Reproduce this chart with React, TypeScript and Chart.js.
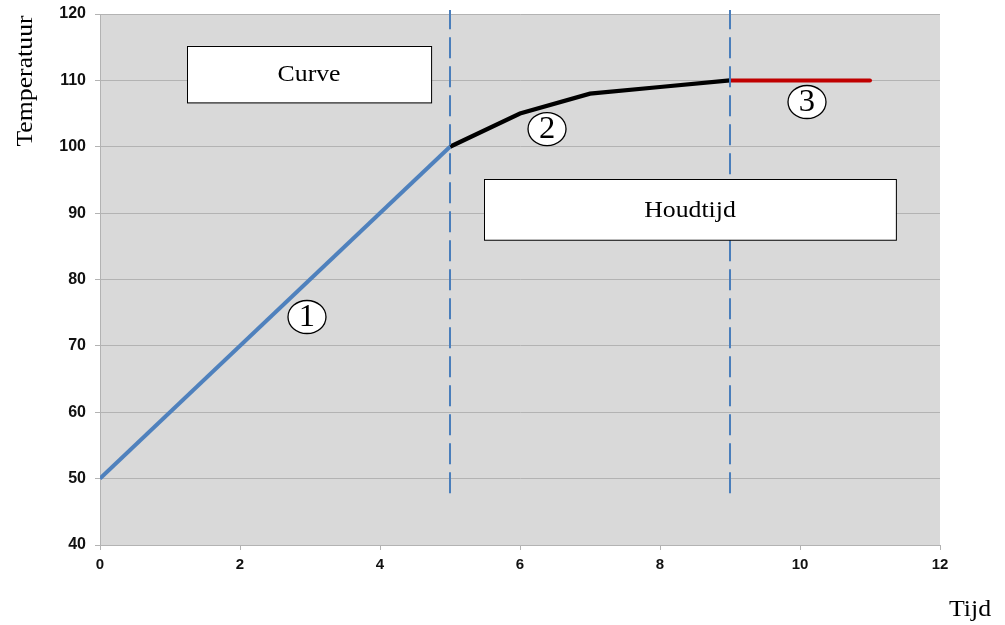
import React, { useEffect, useRef } from "react";
import { Chart, registerables } from "chart.js";

Chart.register(...registerables);

const phase1X = [0, 5];
const phase1Y = [50, 100];
const phase2X = [5, 6, 7, 8, 9];
const phase2Y = [100, 105, 108, 109, 110];
const phase3X = [9, 11];
const phase3Y = [110, 110];
const dividerX = [5, 9];
const dividerSpan = [47.8, 120.6];
const xTicks = [0, 2, 4, 6, 8, 10, 12];
const yTicks = [40, 50, 60, 70, 80, 90, 100, 110, 120];
const labelBoxes = [
  { text: "Curve", x0: 1.243, x1: 4.73, y0: 115.2, y1: 106.7 },
  { text: "Houdtijd", x0: 5.486, x1: 11.37, y0: 95.1, y1: 85.95 },
];
const markers = [
  { text: "1", x: 2.957, y: 74.35 },
  { text: "2", x: 6.386, y: 102.67 },
  { text: "3", x: 10.1, y: 106.74 },
];

const zip = (xs: number[], ys: number[]) => xs.map((x, i) => ({ x, y: ys[i] }));

const SERIF = "'Times New Roman', 'Liberation Serif', Tinos, serif";
const SANS = "Arial, 'Liberation Sans', sans-serif";

const decorPlugin = {
  id: "decor",
  beforeDraw(chart: any) {
    const { ctx, chartArea: a } = chart;
    ctx.save();
    ctx.fillStyle = "#ffffff";
    ctx.fillRect(0, 0, chart.width, chart.height);
    ctx.fillStyle = "#d9d9d9";
    ctx.fillRect(a.left, a.top, a.right - a.left, a.bottom - a.top);
    ctx.restore();
  },
  afterDraw(chart: any) {
    const { ctx, scales } = chart;
    const xs = scales.x;
    const ys = scales.y;
    ctx.save();
    const drawText = (t: string, cx: number, cy: number, size: number, sx: number) => {
      ctx.save();
      ctx.translate(cx, cy);
      ctx.scale(sx, 1);
      ctx.font = `${size}px ${SERIF}`;
      ctx.fillStyle = "#000";
      ctx.textAlign = "center";
      ctx.textBaseline = "middle";
      ctx.fillText(t, 0, 0);
      ctx.restore();
    };
    labelBoxes.forEach((b) => {
      const l = xs.getPixelForValue(b.x0);
      const r = xs.getPixelForValue(b.x1);
      const t = ys.getPixelForValue(b.y0);
      const bt = ys.getPixelForValue(b.y1);
      ctx.fillStyle = "#fff";
      ctx.fillRect(l, t, r - l, bt - t);
      ctx.strokeStyle = "#000";
      ctx.lineWidth = 1;
      ctx.strokeRect(Math.round(l) + 0.5, Math.round(t) + 0.5, r - l, bt - t);
      drawText(b.text, (l + r) / 2, (t + bt) / 2 + 1, 23, 1.12);
    });
    markers.forEach((m) => {
      const cx = xs.getPixelForValue(m.x);
      const cy = ys.getPixelForValue(m.y);
      ctx.beginPath();
      ctx.ellipse(cx, cy, 19, 16.5, 0, 0, Math.PI * 2);
      ctx.fillStyle = "#fff";
      ctx.fill();
      ctx.strokeStyle = "#000";
      ctx.lineWidth = 1.3;
      ctx.stroke();
      drawText(m.text, cx, cy + 1, 31, 1.05);
    });
    // axis titles
    ctx.save();
    ctx.translate(26, 81);
    ctx.rotate(-Math.PI / 2);
    ctx.scale(1.12, 1);
    ctx.font = `23px ${SERIF}`;
    ctx.fillStyle = "#000";
    ctx.textAlign = "center";
    ctx.textBaseline = "middle";
    ctx.fillText("Temperatuur", 0, 0);
    ctx.restore();
    drawText("Tijd", 970, 610, 23, 1.12);
    ctx.restore();
  },
};

export default function App() {
  const ref = useRef<HTMLCanvasElement>(null);
  useEffect(() => {
    if (!ref.current) return;
    const chart = new Chart(ref.current, {
      type: "scatter",
      data: {
        datasets: [
          {
            label: "divider-a",
            data: zip([dividerX[0], dividerX[0]], dividerSpan),
            showLine: true,
            borderColor: "#4a7ebb",
            borderWidth: 2,
            borderDash: [21, 8],
            pointRadius: 0,
            clip: false as any,
          },
          {
            label: "divider-b",
            data: zip([dividerX[1], dividerX[1]], dividerSpan),
            showLine: true,
            borderColor: "#4a7ebb",
            borderWidth: 2,
            borderDash: [21, 8],
            pointRadius: 0,
            clip: false as any,
          },
          {
            label: "Fase 1",
            data: zip(phase1X, phase1Y),
            showLine: true,
            borderColor: "#4f81bd",
            borderWidth: 4,
            pointRadius: 0,
          },
          {
            label: "Fase 2",
            data: zip(phase2X, phase2Y),
            showLine: true,
            borderColor: "#000000",
            borderWidth: 4.2,
            pointRadius: 0,
          },
          {
            label: "Fase 3",
            data: zip(phase3X, phase3Y),
            showLine: true,
            borderColor: "#c00000",
            borderWidth: 4,
            borderCapStyle: "round",
            pointRadius: 0,
          },
        ],
      },
      options: {
        responsive: false,
        animation: false,
        layout: { padding: { left: 0, top: 14, right: 65, bottom: 0 } },
        plugins: { legend: { display: false }, tooltip: { enabled: false } },
        scales: {
          x: {
            type: "linear",
            min: 0,
            max: 12,
            afterFit: (s: any) => {
              s.height = 80;
              s.paddingLeft = 0;
              s.paddingRight = 0;
            },
            afterBuildTicks: (s: any) => {
              s.ticks = xTicks.map((v) => ({ value: v }));
            },
            ticks: {
              padding: 6,
              color: "#111",
              font: { family: SANS, weight: "bold", size: 15 },
              maxRotation: 0,
            },
            grid: { drawOnChartArea: false, drawTicks: true, tickLength: 5, color: "#b3b3b3" },
            border: { display: true, color: "#b3b3b3", width: 1 },
          },
          y: {
            type: "linear",
            min: 40,
            max: 120,
            afterFit: (s: any) => {
              s.width = 100;
              s.paddingTop = 0;
              s.paddingBottom = 0;
            },
            afterBuildTicks: (s: any) => {
              s.ticks = yTicks.map((v) => ({ value: v }));
            },
            ticks: {
              padding: 9,
              color: "#111",
              font: { family: SANS, weight: "bold", size: 16 },
            },
            grid: { color: "#b3b3b3", lineWidth: 1, tickLength: 5 },
            border: { display: true, color: "#b3b3b3", width: 1 },
          },
        },
      },
      plugins: [decorPlugin],
    });
    return () => chart.destroy();
  }, []);
  return (
    <div style={{ position: "absolute", left: 0, top: 0, width: 1005, height: 625 }}>
      <canvas ref={ref} width={1005} height={625} style={{ display: "block" }} />
    </div>
  );
}
